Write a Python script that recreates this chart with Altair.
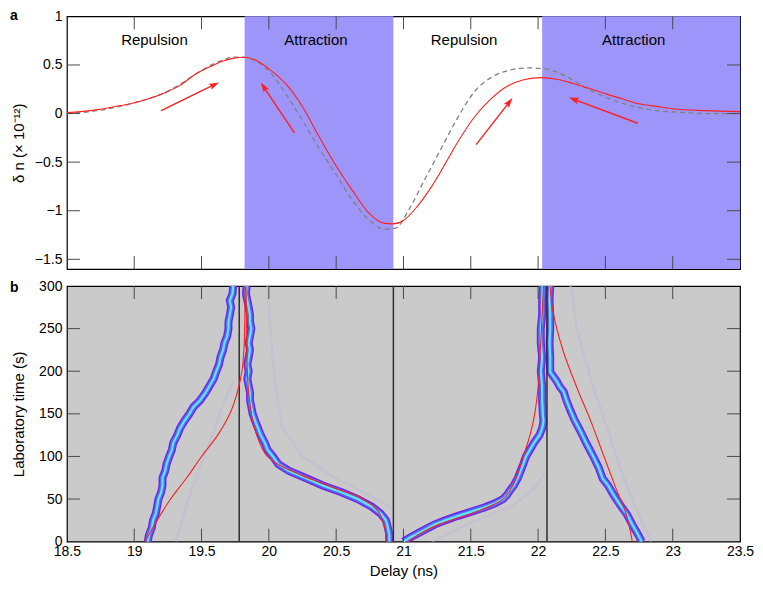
import math
import altair as alt
import pandas as pd

# ---------------- data ----------------
x_domain = [18.5, 23.5]
dn_domain = [-1.6, 1.0]
t_domain = [0, 300]

delay_labels = [18.5, 19, 19.5, 20, 20.5, 21, 21.5, 22, 22.5, 23, 23.5]
inner_x_ticks = [19, 19.5, 20, 20.5, 21, 21.5, 22, 22.5, 23]
dn_labels = [-1.5, -1, -0.5, 0, 0.5, 1]
inner_dn_ticks = [-1.5, -1, -0.5, 0, 0.5]
t_labels = [0, 50, 100, 150, 200, 250, 300]
inner_t_ticks = [50, 100, 150, 200, 250]

# panel a: model (red solid) and calculation (grey dashed)
model_delay = [18.5, 18.6, 18.73, 18.85, 18.97, 19.1, 19.22, 19.34, 19.46, 19.56, 19.66, 19.74,
               19.82, 19.9, 20.0, 20.13, 20.25, 20.37, 20.5, 20.62, 20.74, 20.86, 20.92, 21.0,
               21.1, 21.2, 21.28, 21.4, 21.53, 21.65, 21.77, 21.9, 22.02, 22.15, 22.26, 22.4,
               22.51, 22.63, 22.75, 22.9, 23.0, 23.25, 23.5]
model_dn = [0.01, 0.02, 0.04, 0.07, 0.10, 0.15, 0.21, 0.29, 0.41, 0.48, 0.54, 0.57,
            0.58, 0.55, 0.46, 0.30, 0.07, -0.23, -0.54, -0.79, -1.02, -1.13, -1.135, -1.10,
            -0.96, -0.77, -0.59, -0.30, -0.03, 0.15, 0.28, 0.35, 0.37, 0.35, 0.31, 0.25,
            0.20, 0.15, 0.10, 0.07, 0.05, 0.03, 0.02]
calc_delay = [18.5, 18.6, 18.73, 18.85, 18.97, 19.1, 19.22, 19.34, 19.46, 19.56, 19.66, 19.74,
              19.8, 19.906, 20.0, 20.127, 20.25, 20.37, 20.5, 20.62, 20.74, 20.86, 20.94, 21.04,
              21.15, 21.28, 21.4, 21.53, 21.65, 21.77, 21.93, 22.05, 22.15, 22.4, 22.64, 22.88,
              23.1, 23.24, 23.5]
calc_dn = [0.0, 0.01, 0.03, 0.06, 0.10, 0.15, 0.21, 0.30, 0.41, 0.49, 0.55, 0.58,
           0.58, 0.54, 0.44, 0.20, -0.07, -0.35, -0.63, -0.89, -1.09, -1.19, -1.18, -0.99,
           -0.70, -0.36, -0.05, 0.23, 0.37, 0.44, 0.47, 0.46, 0.42, 0.23, 0.10, 0.03,
           0.01, 0.0, 0.0]

attraction_start = [19.82, 22.03]
attraction_end = [20.925, 23.5]

region_names = ["Repulsion", "Attraction", "Repulsion", "Attraction"]
region_delay = [19.15, 20.35, 21.45, 22.71]
region_dn = [0.755, 0.755, 0.755, 0.755]

arrow_from_delay = [19.20, 20.19, 21.54, 22.74]
arrow_from_dn = [0.03, -0.20, -0.32, -0.10]
arrow_to_delay = [19.63, 19.94, 21.81, 22.23]
arrow_to_dn = [0.32, 0.32, 0.16, 0.165]

# panel b: measured soliton tracks (time in s, delay in ns)
track1_t = [0, 8, 16, 25, 33, 41, 50, 58, 66, 75, 83, 91, 100, 108, 116, 125, 133, 141, 150, 158,
            166, 175, 183, 191, 200, 208, 216, 225, 233, 241, 250, 258, 266, 275, 283, 291, 300]
track1_x = [19.10, 19.11, 19.13, 19.14, 19.16, 19.17, 19.18, 19.20, 19.21, 19.21, 19.23, 19.24,
            19.26, 19.28, 19.29, 19.32, 19.34, 19.37, 19.41, 19.44, 19.49, 19.53, 19.56, 19.59,
            19.61, 19.63, 19.64, 19.66, 19.67, 19.69, 19.70, 19.70, 19.71, 19.72, 19.71, 19.73,
            19.735]
track2_t = [0, 8, 16, 25, 33, 41, 50, 58, 66, 75, 83, 91, 100, 108, 116, 125, 133, 141, 150, 158,
            166, 175, 183, 191, 200, 208, 216, 225, 233, 241, 250, 258, 266, 275, 283, 291, 300]
track2_x = [20.895, 20.895, 20.885, 20.87, 20.83, 20.765, 20.66, 20.54, 20.40, 20.27, 20.15,
            20.07, 20.03, 19.99, 19.97, 19.94, 19.92, 19.90, 19.88, 19.87, 19.86, 19.86, 19.85,
            19.84, 19.85, 19.84, 19.85, 19.86, 19.85, 19.86, 19.87, 19.86, 19.86, 19.85, 19.84,
            19.83, 19.835]
track3_t = [0, 5, 10, 15, 20, 25, 30, 35, 40, 45, 50, 55, 60, 66, 75, 83, 91, 100, 108, 116, 125,
            133, 141, 150, 166, 183, 200, 216, 233, 250, 266, 283, 300]
track3_x = [21.0, 21.05, 21.11, 21.17, 21.23, 21.31, 21.40, 21.50, 21.60, 21.68, 21.74, 21.77,
            21.79, 21.82, 21.85, 21.87, 21.89, 21.91, 21.94, 21.97, 22.01, 22.03, 22.04, 22.035,
            22.03, 22.03, 22.02, 22.03, 22.02, 22.02, 22.03, 22.03, 22.035]
track4_t = [0, 9, 20, 32, 43, 55, 66, 74, 87, 100, 115, 131, 143, 154, 166, 176, 182, 188, 199,
            216, 233, 249, 266, 283, 300]
track4_x = [22.77, 22.74, 22.70, 22.66, 22.61, 22.56, 22.52, 22.48, 22.45, 22.41, 22.36, 22.31,
            22.27, 22.24, 22.21, 22.19, 22.16, 22.14, 22.09, 22.09, 22.085, 22.09, 22.09, 22.085,
            22.09]

# faint secondary traces
ghost1_t = [0, 50, 97, 130, 161, 190]
ghost1_x = [19.31, 19.40, 19.51, 19.59, 19.66, 19.74]
ghost2_t = [40, 55, 74, 100, 134, 180, 230, 279, 300]
ghost2_x = [20.91, 20.74, 20.50, 20.25, 20.10, 20.05, 20.02, 20.0, 19.99]
ghost3_t = [0, 32, 77, 135, 191, 248, 294, 300]
ghost3_x = [22.84, 22.75, 22.63, 22.51, 22.39, 22.29, 22.25, 22.24]
ghost4_t = [0, 15, 30, 43, 62, 80]
ghost4_x = [21.21, 21.40, 21.62, 21.82, 21.97, 22.05]

# panel b: model trajectories (red)
model1_t = [0, 25, 50, 75, 100, 125, 150, 175, 200, 225, 250, 300]
model1_x = [19.08, 19.17, 19.27, 19.39, 19.50, 19.62, 19.71, 19.765, 19.80, 19.815, 19.82, 19.825]
model2_t = [0, 17, 36, 51, 62, 70, 77.5, 85, 92.7, 100, 108, 125, 142, 175, 200, 250, 300]
model2_x = [20.87, 20.86, 20.81, 20.69, 20.50, 20.37, 20.25, 20.14, 20.05, 19.99, 19.955, 19.91,
            19.88, 19.85, 19.84, 19.835, 19.83]
model3_t = [0, 10, 20, 30, 40, 50, 60, 75, 100, 125, 150, 190, 230, 265, 300]
model3_x = [21.035, 21.13, 21.26, 21.45, 21.62, 21.74, 21.79, 21.84, 21.89, 21.94, 21.975, 22.005,
            22.018, 22.03, 22.04]
model4_t = [0, 32, 62, 104, 142, 180, 222, 256, 280, 300]
model4_x = [22.70, 22.655, 22.58, 22.48, 22.39, 22.29, 22.19, 22.13, 22.10, 22.09]

boundary_delay = [19.78, 20.925, 22.066]

# ---------------- styling ----------------
W, HA, HB = 674, 253, 256
FONT = "Liberation Sans"
RED = "#ff1e1e"
SHADE = "#9e95fb"
TICK = "#4a4a4a"
TL = 13
ARROW_PATH = "M0,-1L0.62,0.95L0,0.55L-0.62,0.95Z"

# ---------------- tables ----------------
model_df = pd.DataFrame({"x": model_delay, "y": model_dn})
calc_df = pd.DataFrame({"x": calc_delay, "y": calc_dn})
shade_df = pd.DataFrame({"x": attraction_start, "x2": attraction_end})
region_df = pd.DataFrame({"x": region_delay, "y": region_dn, "name": region_names})

sx = W / (x_domain[1] - x_domain[0])
sy = HA / (dn_domain[1] - dn_domain[0])
HEAD_SIZE = 110
head_r = math.sqrt(HEAD_SIZE) / 2
rows = []
for x0, y0, x1, y1 in zip(arrow_from_delay, arrow_from_dn, arrow_to_delay, arrow_to_dn):
    dxp, dyp = (x1 - x0) * sx, (y1 - y0) * sy
    L = math.hypot(dxp, dyp)
    ux, uy = dxp / L, dyp / L
    hx, hy = x1 - head_r * ux / sx, y1 - head_r * uy / sy
    ang = math.degrees(math.atan2(dxp, dyp)) % 360
    rows.append({"x": x0, "y": y0, "x2": hx, "y2": hy, "hx": hx, "hy": hy, "ang": ang})
arrow_df = pd.DataFrame(rows)


def lines_df(groups):
    recs = []
    for name, ts, xs in groups:
        for i, (t, x) in enumerate(zip(ts, xs)):
            recs.append({"g": name, "t": t, "x": x, "i": i})
    return pd.DataFrame(recs)


tracks_df = lines_df([("1", track1_t, track1_x), ("2", track2_t, track2_x),
                      ("3", track3_t, track3_x), ("4", track4_t, track4_x)])
ghost_df = lines_df([("1", ghost1_t, ghost1_x), ("2", ghost2_t, ghost2_x),
                     ("3", ghost3_t, ghost3_x), ("4", ghost4_t, ghost4_x)])
models_df = lines_df([("1", model1_t, model1_x), ("2", model2_t, model2_x),
                      ("3", model3_t, model3_x), ("4", model4_t, model4_x)])
bound_df = pd.DataFrame({"x": boundary_delay})

xt_df = pd.DataFrame({"x": inner_x_ticks})
yt_a_df = pd.DataFrame({"y": inner_dn_ticks})
yt_b_df = pd.DataFrame({"t": inner_t_ticks})

# ---------------- encodings ----------------
xscale = alt.Scale(domain=x_domain, nice=False, zero=False)
x_axis_b = alt.Axis(values=delay_labels, format="~g", ticks=False, domain=False, grid=False,
                    labelFontSize=14, labelPadding=3, labelColor="black", labelOverlap=False,
                    labelFlush=False, title="Delay (ns)", titleFontSize=15,
                    titleFontWeight="normal", titleColor="black", titlePadding=5)
y_axis_a = alt.Axis(values=dn_labels, format="~g", ticks=False, domain=False, grid=False,
                    labelFontSize=14, labelPadding=5, labelColor="black", labelOverlap=False,
                    minExtent=30, maxExtent=30, title="δ n (× 10⁻¹²)", titleFontSize=15,
                    titleFontWeight="normal", titleColor="black", titlePadding=10)
y_axis_b = alt.Axis(values=t_labels, format="d", ticks=False, domain=False, grid=False,
                    labelFontSize=14, labelPadding=5, labelColor="black", labelOverlap=False,
                    minExtent=30, maxExtent=30, title="Laboratory time (s)", titleFontSize=15,
                    titleFontWeight="normal", titleColor="black", titlePadding=10)


def XA(f):
    return alt.X(f, type="quantitative", scale=xscale, axis=None)


def YA(f):
    return alt.Y(f, type="quantitative",
                 scale=alt.Scale(domain=dn_domain, nice=False, zero=False), axis=y_axis_a)


def XB(f):
    return alt.X(f, type="quantitative", scale=xscale, axis=x_axis_b)


def YB(f):
    return alt.Y(f, type="quantitative",
                 scale=alt.Scale(domain=t_domain, nice=False, zero=False), axis=y_axis_b)


# ---------------- panel a ----------------
shade_layer = alt.Chart(shade_df).mark_rect(color=SHADE, opacity=1).encode(
    x=XA("x"), x2="x2", y=alt.value(0), y2=alt.value(HA))
calc_layer = alt.Chart(calc_df).mark_line(color="#808080", strokeWidth=1.3,
                                          strokeDash=[5, 3.5], interpolate="monotone").encode(
    x=XA("x"), y=YA("y"))
model_layer = alt.Chart(model_df).mark_line(color=RED, strokeWidth=1.1,
                                            interpolate="monotone").encode(
    x=XA("x"), y=YA("y"))
shaft_layer = alt.Chart(arrow_df).mark_rule(color=RED, strokeWidth=1.4).encode(
    x=XA("x"), y=YA("y"), x2="x2", y2="y2")
head_layer = alt.Chart(arrow_df).mark_point(shape=ARROW_PATH, filled=True, color=RED,
                                            size=HEAD_SIZE, opacity=1, strokeWidth=0).encode(
    x=XA("hx"), y=YA("hy"), angle=alt.Angle("ang:Q", scale=None))
text_layer = alt.Chart(region_df).mark_text(fontSize=15, font=FONT, color="black").encode(
    x=XA("x"), y=YA("y"), text="name:N")
xt_top_a = alt.Chart(xt_df).mark_rule(color=TICK, strokeWidth=1).encode(
    x=XA("x"), y=alt.value(0), y2=alt.value(TL))
xt_bot_a = alt.Chart(xt_df).mark_rule(color=TICK, strokeWidth=1).encode(
    x=XA("x"), y=alt.value(HA), y2=alt.value(HA - TL))
yt_l_a = alt.Chart(yt_a_df).mark_rule(color=TICK, strokeWidth=1).encode(
    y=YA("y"), x=alt.value(0), x2=alt.value(TL))
yt_r_a = alt.Chart(yt_a_df).mark_rule(color=TICK, strokeWidth=1).encode(
    y=YA("y"), x=alt.value(W), x2=alt.value(W - TL))
label_a = alt.Chart(pd.DataFrame({"s": ["a"]})).mark_text(
    fontSize=14, fontWeight="bold", font=FONT, align="left", baseline="top", color="black").encode(
    x=alt.value(-57), y=alt.value(-7), text="s:N")

panel_a = alt.layer(shade_layer, calc_layer, model_layer, shaft_layer, head_layer, text_layer,
                    xt_top_a, xt_bot_a, yt_l_a, yt_r_a, label_a).properties(width=W, height=HA)

# ---------------- panel b ----------------
ghost_layer = alt.Chart(ghost_df).mark_line(color="#bfbcd6", strokeWidth=2.5, opacity=0.6,
                                            clip=True).encode(
    x=XB("x"), y=YB("t"), detail="g:N", order="i:Q")
trk_outer = alt.Chart(tracks_df).mark_line(color="#7026e6", strokeWidth=8, clip=True).encode(
    x=XB("x"), y=YB("t"), detail="g:N", order="i:Q")
trk_mid = alt.Chart(tracks_df).mark_line(color="#4f6ff7", strokeWidth=5.2, clip=True).encode(
    x=XB("x"), y=YB("t"), detail="g:N", order="i:Q")
trk_core = alt.Chart(tracks_df).mark_line(color="#62e4f6", strokeWidth=2.2, clip=True).encode(
    x=XB("x"), y=YB("t"), detail="g:N", order="i:Q")
bound_layer = alt.Chart(bound_df).mark_rule(color="#303030", strokeWidth=1.5).encode(
    x=XB("x"), y=alt.value(0), y2=alt.value(HB))
model_b = alt.Chart(models_df).mark_line(color=RED, strokeWidth=1.1, clip=True,
                                         interpolate="catmull-rom").encode(
    x=XB("x"), y=YB("t"), detail="g:N", order="i:Q")
xt_top_b = alt.Chart(xt_df).mark_rule(color=TICK, strokeWidth=1).encode(
    x=XB("x"), y=alt.value(0), y2=alt.value(TL))
xt_bot_b = alt.Chart(xt_df).mark_rule(color=TICK, strokeWidth=1).encode(
    x=XB("x"), y=alt.value(HB), y2=alt.value(HB - TL))
yt_l_b = alt.Chart(yt_b_df).mark_rule(color=TICK, strokeWidth=1).encode(
    y=YB("t"), x=alt.value(0), x2=alt.value(TL))
yt_r_b = alt.Chart(yt_b_df).mark_rule(color=TICK, strokeWidth=1).encode(
    y=YB("t"), x=alt.value(W), x2=alt.value(W - TL))
label_b = alt.Chart(pd.DataFrame({"s": ["b"]})).mark_text(
    fontSize=14, fontWeight="bold", font=FONT, align="left", baseline="middle", color="black").encode(
    x=alt.value(-57), y=alt.value(2), text="s:N")

panel_b = alt.layer(ghost_layer, trk_outer, trk_mid, trk_core, bound_layer, model_b,
                    xt_top_b, xt_bot_b, yt_l_b, yt_r_b, label_b).properties(
    width=W, height=HB, view=alt.ViewBackground(fill="#cacaca", stroke="black", strokeWidth=1.2))

chart = alt.vconcat(panel_a, panel_b, spacing=7,
                    padding={"left": 1, "top": 0, "right": 0, "bottom": 0}).configure(
    font=FONT, background="white",
    view=alt.ViewConfig(stroke="black", strokeWidth=1.2),
    axis=alt.AxisConfig(labelFont=FONT, titleFont=FONT))

chart.save("out.html", embed_options={"renderer": "svg", "actions": False})
